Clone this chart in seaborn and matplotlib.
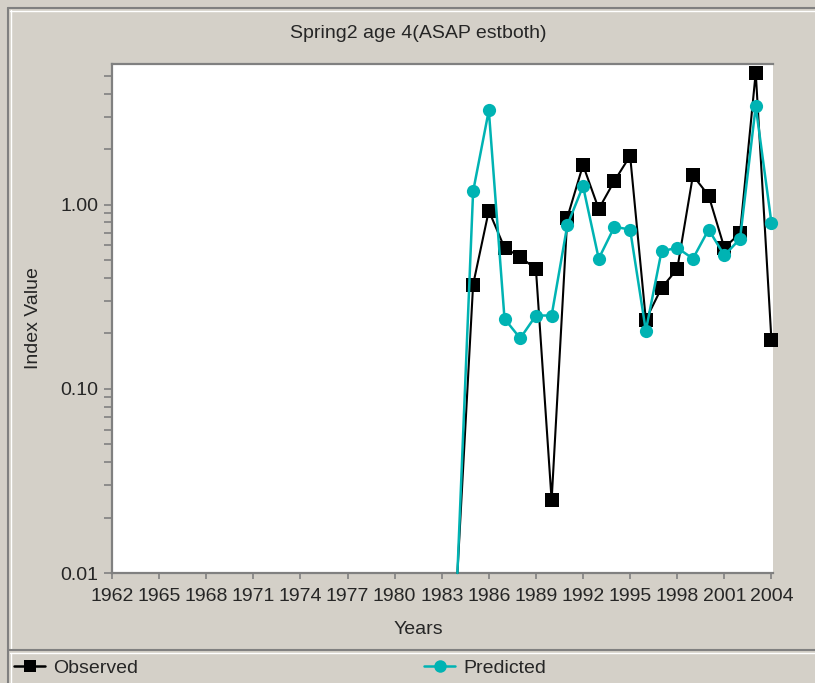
import pandas as pd
import seaborn as sns
import matplotlib.pyplot as plt
from matplotlib.lines import Line2D
from matplotlib.ticker import FixedLocator, LogLocator, NullFormatter

# Dane
years = list(range(1984, 2005))
observed = [0.01, 0.368, 0.927, 0.583, 0.52, 0.447, 0.0248, 0.851, 1.64, 0.947, 1.345, 1.84,
            0.237, 0.353, 0.447, 1.44, 1.12, 0.583, 0.70, 5.21, 0.184]
predicted = [0.01, 1.18, 3.25, 0.24, 0.188, 0.25, 0.25, 0.774, 1.26, 0.509, 0.758, 0.732,
             0.207, 0.558, 0.583, 0.509, 0.732, 0.53, 0.652, 3.42, 0.797]
x_ticks = list(range(1962, 2005, 3))
y_ticks = [0.01, 0.1, 1.0]
y_tick_labels = ["0.01", "0.10", "1.00"]

bg = "#D4D0C8"
gray = "#808080"
obs_color = "black"
pred_color = "#00B3B3"
fs = 14

sns.set_style("white")
plt.rcParams["font.family"] = ["Liberation Sans", "DejaVu Sans"]
plt.rcParams["font.size"] = fs

df = pd.DataFrame({"year": years, "observed": observed, "predicted": predicted})

fig = plt.figure(figsize=(8.15, 6.83), dpi=100, facecolor=bg)
ax = fig.add_axes([112 / 815, 1 - 573 / 683, (773 - 112) / 815, (573 - 64) / 683])
ax.set_facecolor("white")

sns.lineplot(data=df, x="year", y="observed", ax=ax, color=obs_color, lw=1.5,
             marker="s", markersize=9.5, markeredgecolor=obs_color, markeredgewidth=0,
             markevery=slice(1, None), legend=False, clip_on=False, zorder=3)
sns.lineplot(data=df, x="year", y="predicted", ax=ax, color=pred_color, lw=1.8,
             marker="o", markersize=9.5, markeredgecolor=pred_color, markeredgewidth=0,
             markevery=slice(1, None), legend=False, clip_on=False, zorder=3)

ax.set_yscale("log")
ax.set_ylim(0.01, 5.8)
ax.set_xlim(1962, 2004.1)

ax.xaxis.set_major_locator(FixedLocator(x_ticks))
ax.set_xticklabels([str(x) for x in x_ticks])
ax.yaxis.set_major_locator(FixedLocator(y_ticks))
ax.set_yticklabels(y_tick_labels)
ax.yaxis.set_minor_locator(LogLocator(base=10, subs=range(2, 10)))
ax.yaxis.set_minor_formatter(NullFormatter())
ax.tick_params(axis="x", which="major", direction="out", length=4.5, width=1.2,
               color=gray, pad=6, labelsize=fs, bottom=True)
ax.tick_params(axis="y", which="both", direction="out", length=5.8, width=1.2,
               color=gray, pad=4, labelsize=fs, left=True)
ax.set_xlabel("")
ax.set_ylabel("")

for side in ["left", "bottom", "top"]:
    ax.spines[side].set_color(gray)
    ax.spines[side].set_linewidth(1.6)
ax.spines["right"].set_visible(False)

fig.text(418 / 815, 1 - 33 / 683, "Spring2 age 4(ASAP estboth)", ha="center", va="center", fontsize=fs)
fig.text(418 / 815, 1 - 630 / 683, "Years", ha="center", va="center", fontsize=fs)
fig.text(33 / 815, 1 - 318 / 683, "Index Value", ha="center", va="center", rotation=90, fontsize=fs)

# Ramki w stylu okna
def fline(x0, y0, x1, y1, color, lw=1.5):
    fig.add_artist(Line2D([x0 / 815, x1 / 815], [1 - y0 / 683, 1 - y1 / 683],
                          color=color, lw=lw, transform=fig.transFigure))

fline(8, 8, 815, 8, gray)
fline(8, 8, 8, 683, gray)
fline(10, 10.5, 815, 10.5, "white", 1)
fline(10.5, 10, 10.5, 650, "white", 1)
fline(8, 650, 815, 650, gray)
fline(10, 653, 815, 653, "white", 1)
fline(10.5, 653, 10.5, 683, "white", 1)

# Legenda
h_obs = Line2D([], [], color=obs_color, lw=1.8, marker="s", markersize=9, markeredgewidth=0)
h_pred = Line2D([], [], color=pred_color, lw=1.8, marker="o", markersize=9, markeredgewidth=0)
fig.legend([h_obs], ["Observed"], loc="center left", bbox_to_anchor=(14 / 815, 1 - 668 / 683),
           frameon=False, handlelength=1.6, handletextpad=0.4, borderpad=0, borderaxespad=0,
           fontsize=fs)
fig.legend([h_pred], ["Predicted"], loc="center left", bbox_to_anchor=(424 / 815, 1 - 668 / 683),
           frameon=False, handlelength=1.6, handletextpad=0.4, borderpad=0, borderaxespad=0,
           fontsize=fs)

fig.savefig("out.png", dpi=100, facecolor=bg)
